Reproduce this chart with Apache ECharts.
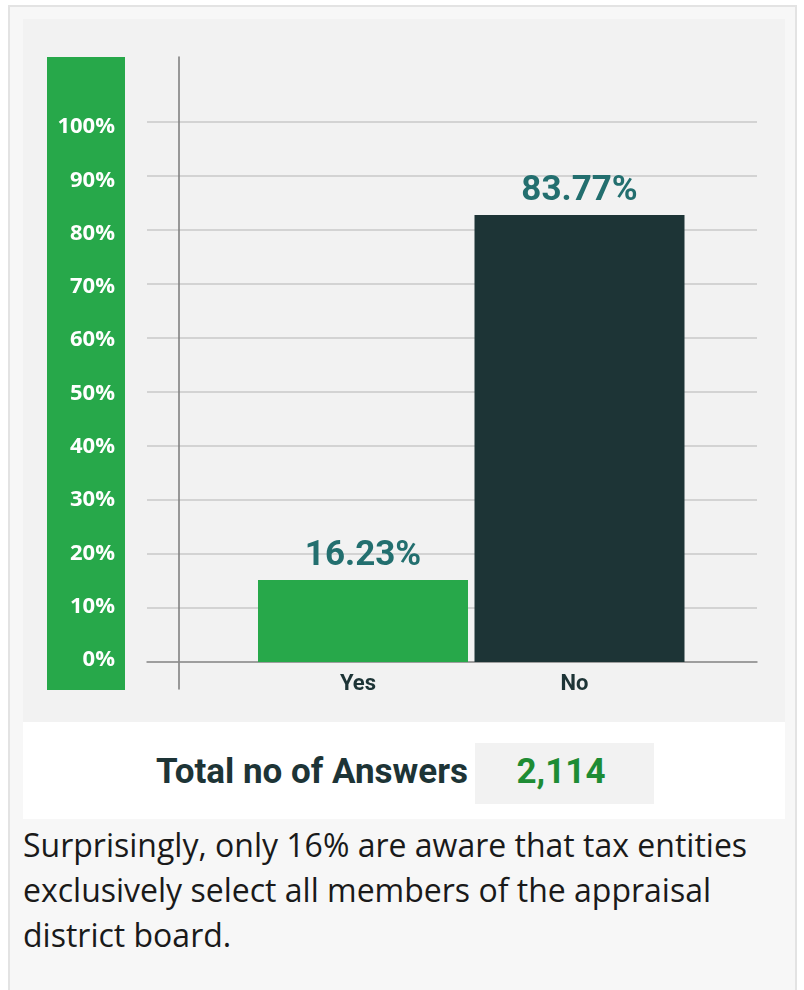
<!DOCTYPE html>
<html>
<head>
<meta charset="utf-8">
<script src="https://cdn.jsdelivr.net/npm/echarts@6/dist/echarts.min.js"></script>
<style>
  html, body { margin: 0; padding: 0; background: #ffffff; width: 804px; height: 990px; overflow: hidden; }
  .abs { position: absolute; }
  #outer { left: 8px; top: 5px; width: 785px; height: 1000px; border: 2px solid #e3e3e3; background: #f7f7f7; }
  #chartBg { left: 23px; top: 19px; width: 762px; height: 703px; background: #f2f2f2; }
  #strip { left: 47px; top: 57px; width: 78px; height: 633px; background: #27a84a; }
  #chart { left: 0; top: 0; width: 804px; height: 722px; }
  #whiteBox { left: 23px; top: 722px; width: 762px; height: 97px; background: #ffffff; }
  #totalLabel { right: 336px; top: 754px; font-family: Roboto, sans-serif; font-weight: bold; font-size: 35px; line-height: 35px; color: #1d3436; white-space: nowrap; }
  #numBox { left: 475px; top: 743px; width: 179px; height: 61px; background: #f2f2f2; }
  #totalNum { left: 475px; top: 754px; width: 172px; text-align: center; font-family: Roboto, sans-serif; font-weight: bold; font-size: 35px; line-height: 35px; color: #1e8c34; }
  #para { left: 23px; top: 822px; width: 760px; font-family: "Open Sans", sans-serif; font-size: 32px; line-height: 45px; color: #1a1a1a; }
</style>
</head>
<body>
<div id="outer" class="abs"></div>
<div id="chartBg" class="abs"></div>
<div id="strip" class="abs"></div>
<div id="chart" class="abs"></div>
<div id="whiteBox" class="abs"></div>
<div id="numBox" class="abs"></div>
<div id="totalLabel" class="abs"></div>
<div id="totalNum" class="abs"></div>
<div id="para" class="abs"></div>
<script>
const categories = ['Yes', 'No'];
const barValues = [15.2, 82.8];
const valueLabels = ['16.23%', '83.77%'];
const barColors = ['#27a84a', '#1d3436'];
const totalTitle = 'Total no of Answers';
const totalAnswers = '2,114';
const caption = 'Surprisingly, only 16% are aware that tax entities exclusively select all members of the appraisal district board.';

document.getElementById('totalLabel').textContent = totalTitle;
document.getElementById('totalNum').textContent = totalAnswers;
document.getElementById('para').textContent = caption;

const chart = echarts.init(document.getElementById('chart'), null, { renderer: 'canvas' });
const H = 722;
chart.setOption({
  backgroundColor: 'transparent',
  animation: false,
  grid: [
    { left: 147, width: 610, top: 122, height: 540 },
    { left: 254.75, width: 433, top: 122, height: 540 },
    { left: 179, width: 10, top: 57, bottom: H - 689 },
    { left: 125, width: 10, top: 127, height: 533 }
  ],
  xAxis: [
    { gridIndex: 0, type: 'category', data: categories, axisLine: { show: true, lineStyle: { color: '#8c8c8c', width: 1.5 } }, axisTick: { show: false }, axisLabel: { show: false }, splitLine: { show: false } },
    { gridIndex: 1, type: 'category', data: categories, axisLine: { show: false }, axisTick: { show: false },
      axisLabel: { show: true, margin: 11, padding: [0, 10, 0, 0], fontFamily: 'Roboto', fontWeight: 'bold', fontSize: 22, color: '#1d3436' } },
    { gridIndex: 2, type: 'value', show: false },
    { gridIndex: 3, type: 'value', show: false }
  ],
  yAxis: [
    { gridIndex: 0, type: 'value', min: 0, max: 100, interval: 10, axisLine: { show: false }, axisTick: { show: false }, axisLabel: { show: false },
      splitLine: { show: true, lineStyle: { color: '#c9c9c9', width: 1.5 } } },
    { gridIndex: 1, type: 'value', min: 0, max: 100, interval: 10, show: false },
    { gridIndex: 2, type: 'value', min: 0, max: 100, axisLine: { show: true, lineStyle: { color: '#7a7a7a', width: 1.5 } }, axisTick: { show: false }, axisLabel: { show: false }, splitLine: { show: false } },
    { gridIndex: 3, type: 'value', min: 0, max: 100, interval: 10, axisLine: { show: false }, axisTick: { show: false }, splitLine: { show: false },
      axisLabel: { show: true, margin: 10, formatter: '{value}%', fontFamily: 'Open Sans', fontWeight: 'bold', fontSize: 22, color: '#ffffff' } }
  ],
  series: [
    {
      type: 'bar',
      xAxisIndex: 1,
      yAxisIndex: 1,
      barCategoryGap: '3%',
      data: barValues.map((v, i) => ({ value: v, itemStyle: { color: barColors[i] } })),
      label: {
        show: true,
        position: 'top',
        distance: 6,
        formatter: (p) => valueLabels[p.dataIndex],
        fontFamily: 'Roboto',
        fontWeight: 'bold',
        fontSize: 35,
        color: '#236f6f'
      }
    }
  ]
});
</script>
</body>
</html>
